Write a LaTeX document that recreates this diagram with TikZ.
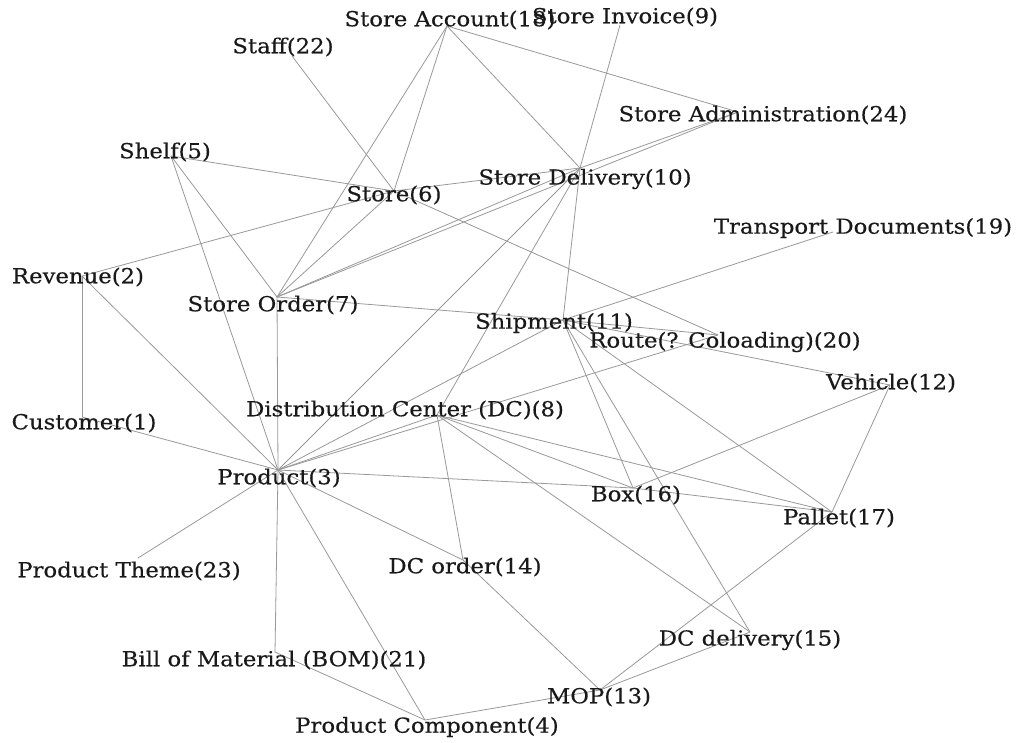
\documentclass[tikz,border=0pt]{standalone}
\usepackage{fontspec}
\setmainfont[FakeStretch=1.1,FakeBold=0.3]{DejaVu Serif}
\begin{document}
\begin{tikzpicture}[x=1pt,y=-1pt,
  pt/.style={shape=coordinate},
  lbl/.style={inner sep=0pt, font=\fontsize{20.7}{24}\selectfont, text=black!90},
  edge/.style={draw=black!40, line width=0.8pt}]
\useasboundingbox[fill=white] (0,0) rectangle (1017,742);
% anchor points
\node[pt] (n1) at (82,417) {};
\node[pt] (n2) at (82,276) {};
\node[pt] (n3) at (278,470) {};
\node[pt] (n4) at (425,720) {};
\node[pt] (n5) at (171,156) {};
\node[pt] (n6) at (394,191) {};
\node[pt] (n7) at (277,297) {};
\node[pt] (n8) at (437,415) {};
\node[pt] (n9) at (620,25) {};
\node[pt] (n10) at (580,168) {};
\node[pt] (n11) at (563,320) {};
\node[pt] (n12) at (890,385) {};
\node[pt] (n13) at (600,690) {};
\node[pt] (n14) at (463,560) {};
\node[pt] (n15) at (750,632) {};
\node[pt] (n16) at (633,488) {};
\node[pt] (n17) at (832,512) {};
\node[pt] (n18) at (447,26) {};
\node[pt] (n19) at (833,232) {};
\node[pt] (n20) at (718,335) {};
\node[pt] (n21) at (275,652) {};
\node[pt] (n22) at (292,56) {};
\node[pt] (n23) at (138,558) {};
\node[pt] (n24) at (738,112) {};
% connectors
\foreach \a/\b in {n2/n1,n2/n3,n2/n6,n1/n3,n5/n6,n5/n7,n5/n3,n22/n6,
  n18/n7,n18/n6,n18/n10,n18/n24,n9/n10,n10/n11,n6/n10,n7/n6,n7/n10,n7/n24,
  n10/n24,n6/n20,n7/n3,n7/n11,n10/n3,n10/n8,n11/n19,n11/n3,n11/n20,n11/n12,
  n11/n16,n11/n15,n11/n17,n8/n3,n3/n20,n8/n14,n8/n16,n8/n17,n8/n15,n3/n16,
  n3/n14,n3/n4,n3/n21,n3/n23,n21/n4,n4/n13,n14/n13,n13/n15,n13/n17,
  n12/n16,n12/n17,n16/n17}
  \draw[edge] (\a) -- (\b);
% labels
\node[lbl] (t1) at (84,423) {Customer(1)};
\node[lbl] (t2) at (78,277) {Revenue(2)};
\node[lbl] (t3) at (279,478) {Product(3)};
\node[lbl] (t4) at (427,727) {Product Component(4)};
\node[lbl] (t5) at (165,152) {Shelf(5)};
\node[lbl] (t6) at (394,195) {Store(6)};
\node[lbl] (t7) at (273,305) {Store Order(7)};
\node[lbl] (t8) at (405,410) {Distribution Center (DC)(8)};
\node[lbl] (t9) at (625,17) {Store Invoice(9)};
\node[lbl] (t10) at (585,179) {Store Delivery(10)};
\node[lbl] (t11) at (554,323) {Shipment(11)};
\node[lbl] (t12) at (891,383) {Vehicle(12)};
\node[lbl] (t13) at (599,697) {MOP(13)};
\node[lbl] (t14) at (465,567) {DC order(14)};
\node[lbl] (t15) at (750,640) {DC delivery(15)};
\node[lbl] (t16) at (636,495) {Box(16)};
\node[lbl] (t17) at (839,518) {Pallet(17)};
\node[lbl] (t18) at (450,20) {Store Account(18)};
\node[lbl] (t19) at (863,228) {Transport Documents(19)};
\node[lbl] (t20) at (725,342) {Route(? Coloading)(20)};
\node[lbl] (t21) at (274,660) {Bill of Material (BOM)(21)};
\node[lbl] (t22) at (283,47) {Staff(22)};
\node[lbl] (t23) at (129,571) {Product Theme(23)};
\node[lbl] (t24) at (763,115) {Store Administration(24)};
\end{tikzpicture}
\end{document}
